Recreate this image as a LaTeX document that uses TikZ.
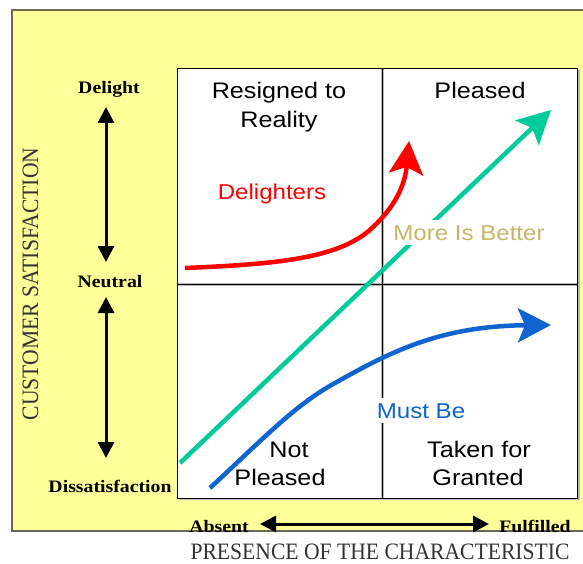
\documentclass[tikz,border=0pt]{standalone}
\usepackage{fontspec}
\setmainfont{Liberation Serif}
\newfontfamily\qfont[FakeStretch=1.12]{Liberation Sans}
\newfontfamily\lbfont[FakeStretch=1.13]{Liberation Serif}
\newfontfamily\capfont[FakeStretch=0.92]{Liberation Serif}
\usetikzlibrary{arrows.meta}
\definecolor{bgyellow}{HTML}{FFFF99}
\definecolor{framegray}{HTML}{6A6A58}
\definecolor{redc}{HTML}{FF0000}
\definecolor{greenc}{HTML}{00CC99}
\definecolor{bluec}{HTML}{1064D0}
\definecolor{khakic}{HTML}{C8B46A}
\definecolor{halogray}{HTML}{B8B8B8}
\tikzset{
  quad/.style={font=\qfont\fontsize{22.5}{27}\selectfont, anchor=base, inner sep=0pt},
  clabel/.style={font=\qfont\fontsize{21.5}{26}\selectfont, anchor=base, inner xsep=2pt, inner ysep=5pt},
  level/.style={font=\lbfont\bfseries\fontsize{17.5}{20}\selectfont, anchor=base, inner sep=0pt},
  axislabel/.style={font=\capfont\fontsize{23.5}{28}\selectfont, anchor=base, inner sep=0pt, text=black!80},
  blackarrow/.style={line width=3pt, {Triangle[length=16pt,width=16pt]}-{Triangle[length=16pt,width=16pt]}},
  curvearrow/.style={line width=4.5pt, -{Stealth[length=33pt,width=34pt,inset=7pt]}},
  divider/.style={halogray, line width=3pt},
  thinline/.style={black, line width=0.9pt}
}
\begin{document}
\begin{tikzpicture}[x=1pt,y=-1pt]
\useasboundingbox (0,0) rectangle (583,564);
% background panel
\fill[bgyellow] (12,10) rectangle (583,531);
\draw[framegray, line width=2pt] (583,10) -- (12,10) -- (12,531) -- (583,531);
% quadrant box
\fill[halogray] (179,70) rectangle (580,500);
\fill[white] (177,68) rectangle (577,498);
\draw[divider] (382,68) -- (382,498);
\draw[divider] (177,284) -- (577,284);
\draw[thinline] (382,68) -- (382,498);
\draw[thinline] (177,284) -- (577,284);
\draw[thinline] (177,68) rectangle (577,498);
% curves
\coordinate (gs) at (180,463);
\coordinate (ge) at (551,110);
\draw[curvearrow, greenc] (gs) -- (ge);
\coordinate (rs) at (185,268);
\coordinate (rm) at (372,228);
\coordinate (re) at (409,141);
\draw[curvearrow, redc] (rs) .. controls (280,264) and (340,258) .. (rm)
   .. controls (395,207) and (405,185) .. (re);
\coordinate (bs) at (210,488);
\coordinate (bm) at (335,383);
\coordinate (be) at (551,325);
\draw[curvearrow, bluec] (bs) .. controls (265,437) and (295,405) .. (bm)
   .. controls (390,352) and (440,326) .. (be);
% quadrant labels
\node[quad] (r1) at (279,99) {Resigned to};
\node[quad] (r2) at (279,128) {Reality};
\node[quad] (pl) at (480,99) {Pleased};
\node[quad] (np1) at (289,457) {Not};
\node[quad] (np2) at (280,485) {Pleased};
\node[quad] (tg1) at (479,457) {Taken for};
\node[quad] (tg2) at (478,485) {Granted};
% curve labels
\node[clabel, text=redc] (dl) at (272,199) {Delighters};
\node[clabel, text=khakic, fill=white] (mb) at (469,240) {More Is Better};
\node[clabel, text=bluec, fill=white] (mu) at (421,418) {Must Be};
% vertical axis
\node[level] (dg) at (109,94) {Delight};
\node[level] (nt) at (110,287) {Neutral};
\node[level] (ds) at (110,492) {Dissatisfaction};
\coordinate (v1) at (106,107);
\coordinate (v2) at (106,262);
\coordinate (v3) at (106,297);
\coordinate (v4) at (106,458);
\draw[blackarrow] (v1) -- (v2);
\draw[blackarrow] (v3) -- (v4);
\node[axislabel, rotate=90] (cs) at (38,284) {CUSTOMER SATISFACTION};
% horizontal axis
\node[level] (ab) at (219,532) {Absent};
\node[level] (ff) at (535,532) {Fulfilled};
\coordinate (h1) at (260,524);
\coordinate (h2) at (489,524);
\draw[blackarrow] (h1) -- (h2);
\node[axislabel] (pc) at (380,559.5) {PRESENCE OF THE CHARACTERISTIC};
\end{tikzpicture}
\end{document}
